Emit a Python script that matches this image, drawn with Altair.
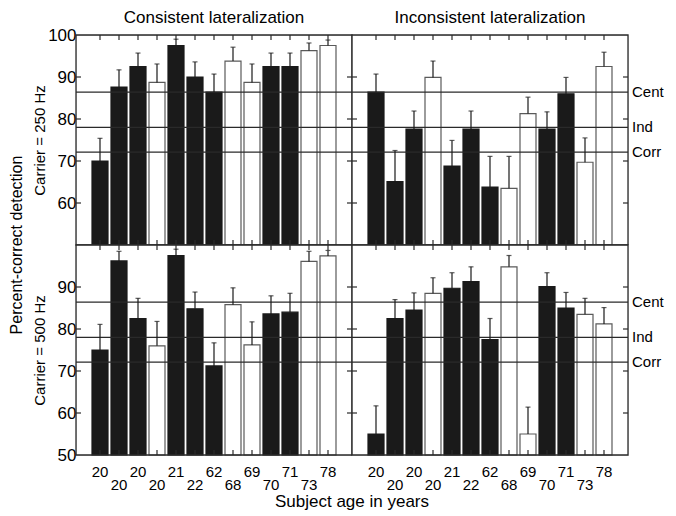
import altair as alt
import pandas as pd

# ---------------- data ----------------
positions = list(range(1, 14))
ages = ["20", "20", "20", "20", "21", "22", "62", "68", "69", "70", "71", "73", "78"]
groups = ["filled", "filled", "filled", "open", "filled", "filled", "filled",
          "open", "open", "filled", "filled", "open", "open"]

cons_250 = [70.0, 87.6, 92.5, 88.7, 97.5, 90.0, 86.4, 93.8, 88.7, 92.5, 92.5, 96.3, 97.5]
cons_250_err = [75.4, 91.7, 95.7, 93.1, 99.0, 93.6, 90.7, 97.1, 93.1, 95.7, 95.7, 98.1, 98.8]
incons_250 = [86.4, 65.1, 77.6, 89.9, 68.8, 77.6, 63.8, 63.5, 81.3, 77.6, 86.0, 69.7, 92.5]
incons_250_err = [90.7, 72.5, 81.9, 93.8, 74.9, 81.9, 71.1, 71.1, 85.2, 81.7, 89.9, 75.5, 95.9]
cons_500 = [75.0, 96.2, 82.5, 76.0, 97.5, 84.8, 71.2, 85.8, 76.2, 83.6, 84.0, 96.1, 97.4]
cons_500_err = [81.1, 98.5, 87.3, 81.8, 99.0, 88.8, 76.7, 89.8, 81.7, 87.9, 88.5, 98.5, 98.7]
incons_500 = [55.0, 82.5, 84.5, 88.5, 89.7, 91.3, 77.5, 94.8, 55.0, 90.1, 85.0, 83.5, 81.2]
incons_500_err = [61.7, 87.0, 88.6, 92.2, 93.4, 94.8, 82.5, 97.5, 61.4, 93.4, 88.7, 87.3, 85.1]

ref_values = [86.4, 78.0, 72.1]
ref_labels = ["Cent", "Ind", "Corr"]
edge_tick_values = [60, 70, 80, 90]
top_row_labels = [60, 70, 80, 90, 100]
bottom_row_labels = [50, 60, 70, 80, 90]

col_titles = ["Consistent lateralization", "Inconsistent lateralization"]
row_titles = ["Carrier = 250 Hz", "Carrier = 500 Hz"]
y_title = "Percent-correct detection"
x_title = "Subject age in years"

# ---------------- layout / style ----------------
W, H = 276, 210
BASELINE = 50
FONT = "Liberation Sans"
DARK = "#1a1a1a"
FRAME = "#2b2b2b"

y_scale = alt.Scale(domain=[50, 100], nice=False, zero=False)
x_scale = alt.Scale(domain=[0, 14], nice=False, zero=False)


def panel(vals, errs, col_title=None, row_title=None, y_labels=None,
          right=False, bottom=False, left_title=False):
    df = pd.DataFrame({"pos": positions, "age": ages, "group": groups,
                       "value": vals, "err": errs})
    if row_title:
        yaxis = alt.Axis(values=y_labels, title=row_title, ticks=False, tickSize=0,
                         domain=False, grid=False, labelFontSize=17, labelPadding=0,
                         labelFont=FONT, labelColor="black", labelFlush=False,
                         labelOverlap=False,
                         titleFont=FONT, titleFontSize=15, titleFontWeight="normal",
                         titleColor="black", titleX=-32, titleY=H / 2, titleAngle=270,
                         titleAlign="center", titleBaseline="alphabetic")
    else:
        yaxis = None
    X = alt.X("pos:Q", scale=x_scale, axis=None)

    def Y(field):
        return alt.Y(field, scale=y_scale, axis=yaxis)

    base = alt.Chart(df)
    bars = base.mark_bar(size=16, strokeWidth=1.2).encode(
        x=X, y=Y("value:Q"), y2=alt.datum(BASELINE),
        fill=alt.Fill("group:N", scale=alt.Scale(domain=["filled", "open"],
                                                 range=[DARK, "#ffffff"]), legend=None),
        stroke=alt.Stroke("group:N", scale=alt.Scale(domain=["filled", "open"],
                                                     range=[DARK, "#5a5a5a"]), legend=None),
    )
    ref_df = pd.DataFrame({"v": ref_values, "label": ref_labels})
    rlines = alt.Chart(ref_df).mark_rule(color="#2a2a2a", strokeWidth=1.2).encode(y=Y("v:Q"))
    err_rule = base.mark_rule(color=DARK, strokeWidth=1.2).encode(x=X, y=Y("value:Q"), y2="err:Q")
    caps = base.mark_tick(orient="horizontal", size=5, thickness=1.2, color=DARK).encode(
        x=X, y=Y("err:Q"))
    top_ticks = base.mark_rule(color=FRAME, strokeWidth=1.2).encode(
        x=X, y=alt.value(0), y2=alt.value(5))
    bot_ticks = base.mark_rule(color=FRAME, strokeWidth=1.2).encode(
        x=X, y=alt.value(H), y2=alt.value(H - 5))
    tdf = alt.Chart(pd.DataFrame({"v": edge_tick_values}))
    left_ticks = tdf.mark_rule(color=FRAME, strokeWidth=1.2).encode(
        y=Y("v:Q"), x=alt.value(0), x2=alt.value(5))
    right_ticks = tdf.mark_rule(color=FRAME, strokeWidth=1.2).encode(
        y=Y("v:Q"), x=alt.value(W - 5), x2=alt.value(W))
    frame = alt.Chart(pd.DataFrame({"f": [0]})).mark_rect(
        filled=False, stroke=FRAME, strokeWidth=1.3).encode(
        x=alt.value(0), x2=alt.value(W), y=alt.value(0), y2=alt.value(H))

    layers = [bars, rlines, err_rule, caps, top_ticks, bot_ticks, left_ticks,
              right_ticks, frame]

    if col_title:
        layers.append(alt.Chart(pd.DataFrame({"t": [col_title]})).mark_text(
            baseline="alphabetic", align="center", fontSize=17, font=FONT,
            color="black").encode(x=alt.value(W / 2), y=alt.value(-12), text="t:N"))
    if right:
        layers.append(alt.Chart(ref_df).mark_text(
            align="left", baseline="middle", fontSize=15, font=FONT, color="black").encode(
            y=Y("v:Q"), x=alt.value(W + 4), text="label:N"))
    if bottom:
        layers.append(base.transform_filter("datum.pos % 2 == 1").mark_text(
            baseline="alphabetic", fontSize=15, font=FONT, color="black").encode(
            x=X, y=alt.value(H + 22), text="age:N"))
        layers.append(base.transform_filter("datum.pos % 2 == 0").mark_text(
            baseline="alphabetic", fontSize=15, font=FONT, color="black").encode(
            x=X, y=alt.value(H + 35), text="age:N"))
        if row_title:
            layers.append(alt.Chart(pd.DataFrame({"t": [x_title]})).mark_text(
                baseline="alphabetic", align="center", fontSize=17, font=FONT,
                color="black").encode(x=alt.value(W), y=alt.value(H + 52), text="t:N"))
    if left_title:
        layers.append(alt.Chart(pd.DataFrame({"t": [y_title]})).mark_text(
            baseline="alphabetic", align="center", angle=270, fontSize=16, font=FONT,
            color="black").encode(x=alt.value(-54), y=alt.value(H), text="t:N"))

    return alt.layer(*layers).properties(width=W, height=H)


TL = panel(cons_250, cons_250_err, col_title=col_titles[0], row_title=row_titles[0],
           y_labels=top_row_labels, left_title=True)
TR = panel(incons_250, incons_250_err, col_title=col_titles[1], right=True)
BL = panel(cons_500, cons_500_err, row_title=row_titles[1], y_labels=bottom_row_labels,
           bottom=True)
BR = panel(incons_500, incons_500_err, right=True, bottom=True)

chart = alt.concat(TL, TR, BL, BR, columns=2, spacing=0, bounds="flush").properties(
    padding=0
).configure_view(stroke=None).configure(font=FONT)

chart.save("out.html", embed_options={"renderer": "svg", "actions": False})
